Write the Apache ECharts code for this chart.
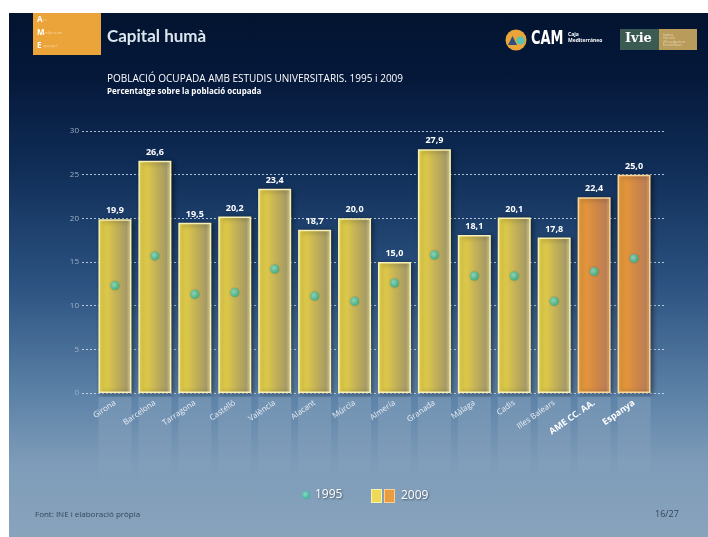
<!DOCTYPE html>
<html>
<head>
<meta charset="utf-8">
<script src="https://cdn.jsdelivr.net/npm/echarts@6/dist/echarts.min.js"></script>
<style>
  html, body { margin: 0; padding: 0; background: #ffffff; }
  #slide {
    position: absolute; left: 9px; top: 13px; width: 699px; height: 524px;
    background: linear-gradient(to bottom, #031430 0%, #05183a 12%, #102e58 30%, #2c5381 52%, #5a80a6 72%, #7e9cb9 86%, #88a3bc 100%);
  }
  #chart { position: absolute; left: 0; top: 0; width: 708px; height: 537px; }
</style>
</head>
<body>
<div id="slide"></div>
<div id="chart"></div>
<script>
  // dades
  const categories = ['Girona', 'Barcelona', 'Tarragona', 'Castelló', 'València', 'Alacant', 'Múrcia',
    'Almería', 'Granada', 'Màlaga', 'Cadis', 'Illes Balears', 'AME CC. AA.', 'Espanya']
  const values2009 = [19.9, 26.6, 19.5, 20.2, 23.4, 18.7, 20.0, 15.0, 27.9, 18.1, 20.1, 17.8, 22.4, 25.0]
  const values1995 = [12.3, 15.7, 11.3, 11.5, 14.2, 11.1, 10.5, 12.6, 15.8, 13.4, 13.4, 10.5, 13.9, 15.4]
  const aggregates = ['AME CC. AA.', 'Espanya']
  const yTicks = { min: 0, max: 30, interval: 5 }

  const fmt = v => v.toFixed(1).replace('.', ',')

  /* colors de les barres */
  const yellowBar = new echarts.graphic.LinearGradient(0, 0, 1, 0, [
    { offset: 0, color: '#f7ea72' },
    { offset: 0.15, color: '#e6d146' },
    { offset: 0.5, color: '#c7b455' },
    { offset: 0.85, color: '#a69a66' },
    { offset: 1, color: '#e9df92' }
  ])
  const orangeBar = new echarts.graphic.LinearGradient(0, 0, 1, 0, [
    { offset: 0, color: '#f7b65a' },
    { offset: 0.15, color: '#ea9a3a' },
    { offset: 0.5, color: '#d58a44' },
    { offset: 0.85, color: '#bb7e55' },
    { offset: 1, color: '#ecaa6a' }
  ])

  const legendSvg = '<svg xmlns="http://www.w3.org/2000/svg" width="25" height="14">' +
    '<rect x="0.5" y="0.5" width="10" height="13" fill="#efd956" stroke="#f8f0b0"/>' +
    '<rect x="13.5" y="0.5" width="10" height="13" fill="#eb9c3c" stroke="#f8d090"/></svg>'

  const textShadow = { textShadowColor: 'rgba(0,0,0,0.45)', textShadowBlur: 2, textShadowOffsetX: 1, textShadowOffsetY: 1 }

  const chart = echarts.init(document.getElementById('chart'))

  const option = {
    backgroundColor: 'transparent',
    animation: false,
    title: {
      text: 'POBLACIÓ OCUPADA AMB ESTUDIS UNIVERSITARIS. 1995 i 2009',
      subtext: 'Percentatge sobre la població ocupada',
      left: 107,
      top: 74,
      padding: 0,
      itemGap: 4,
      textStyle: { color: '#ffffff', fontSize: 10, fontWeight: 'normal', fontFamily: 'Open Sans' },
      subtextStyle: { color: '#ffffff', fontSize: 8, fontWeight: 'bold', fontFamily: 'Open Sans' }
    },
    legend: [
      {
        data: ['1995'],
        left: 297, top: 484,
        icon: 'circle', itemWidth: 8, itemHeight: 8, itemGap: 6,
        textStyle: Object.assign({ color: '#ffffff', fontSize: 12, fontFamily: 'Open Sans' }, textShadow)
      },
      {
        data: [{ name: '2009', icon: 'image://data:image/svg+xml;utf8,' + encodeURIComponent(legendSvg) }],
        left: 366, top: 484,
        itemWidth: 25, itemHeight: 14, itemGap: 6,
        textStyle: Object.assign({ color: '#ffffff', fontSize: 12, fontFamily: 'Open Sans' }, textShadow)
      }
    ],
    grid: [
      { left: 82, right: 43, top: 131, bottom: 144 },   // línies de la quadrícula
      { left: 95, right: 54, top: 131, bottom: 144 },   // barres
      { left: 95, right: 54, top: 397, height: 86 }      // reflex
    ],
    xAxis: [
      { gridIndex: 0, type: 'value', show: false },
      {
        gridIndex: 1, type: 'category', data: categories, z: 5,
        axisLine: { show: false }, axisTick: { show: false },
        axisLabel: {
          rotate: 35, margin: 9, fontSize: 8, color: '#e9eef5', fontFamily: 'Open Sans',
          formatter: (v) => aggregates.includes(v) ? '{b|' + v + '}' : v,
          rich: { b: { fontSize: 9, fontWeight: 'bold', color: '#ffffff', fontFamily: 'Open Sans' } }
        }
      },
      { gridIndex: 2, type: 'category', data: categories, show: false }
    ],
    yAxis: [
      {
        gridIndex: 0, type: 'value', min: yTicks.min, max: yTicks.max, interval: yTicks.interval,
        axisLine: { show: false }, axisTick: { show: false },
        axisLabel: { color: '#9fb1c8', fontSize: 8, margin: 3, fontFamily: 'Open Sans' },
        splitLine: { lineStyle: { color: 'rgba(230,238,248,0.75)', type: [2, 2], width: 1 } }
      },
      { gridIndex: 1, type: 'value', min: yTicks.min, max: yTicks.max, show: false },
      { gridIndex: 2, type: 'value', min: 0, max: 10, inverse: true, show: false }
    ],
    series: [
      {
        name: '2009',
        type: 'bar',
        xAxisIndex: 1, yAxisIndex: 1,
        barWidth: 33,
        z: 2,
        itemStyle: { color: '#efd956' },
        data: values2009.map((v, i) => ({
          value: v,
          itemStyle: {
            color: aggregates.includes(categories[i]) ? orangeBar : yellowBar,
            borderColor: aggregates.includes(categories[i]) ? '#f9d79a' : '#f8f0b4',
            borderWidth: 1.5,
            shadowColor: 'rgba(0,0,0,0.45)', shadowBlur: 5, shadowOffsetX: 2, shadowOffsetY: 1
          }
        })),
        label: {
          show: true, position: 'top', distance: 4,
          color: '#ffffff', fontSize: 9, fontWeight: 'bold', fontFamily: 'Open Sans',
          formatter: p => fmt(p.value)
        }
      },
      {
        name: '1995',
        type: 'scatter',
        xAxisIndex: 1, yAxisIndex: 1,
        symbolSize: 9,
        z: 4,
        itemStyle: {
          color: new echarts.graphic.RadialGradient(0.4, 0.4, 0.6, [
            { offset: 0, color: '#8ae6cf' },
            { offset: 1, color: '#2fb391' }
          ]),
          shadowColor: 'rgba(0,0,0,0.3)', shadowBlur: 2
        },
        data: values1995
      },
      {
        name: 'reflex',
        type: 'bar',
        xAxisIndex: 2, yAxisIndex: 2,
        barWidth: 33,
        silent: true,
        clip: true,
        z: 1,
        itemStyle: {
          color: new echarts.graphic.LinearGradient(0, 0, 0, 1, [
            { offset: 0, color: 'rgba(255,255,255,0.13)' },
            { offset: 1, color: 'rgba(255,255,255,0)' }
          ])
        },
        data: values2009
      }
    ],
    graphic: [
      // capçalera: logotip AME
      { type: 'rect', shape: { x: 33, y: 13, width: 68, height: 42 }, style: { fill: '#eba43a' }, z: 50 },
      { type: 'text', x: 37, y: 16, style: { text: 'A', fill: '#ffffff', font: 'bold 8px Open Sans' }, z: 51 },
      { type: 'text', x: 43, y: 18, style: { text: 'rc', fill: '#f8d8a0', font: '4px Open Sans' }, z: 51 },
      { type: 'text', x: 37, y: 29, style: { text: 'M', fill: '#ffffff', font: 'bold 8px Open Sans' }, z: 51 },
      { type: 'text', x: 44, y: 31, style: { text: 'editerrani', fill: '#f8d8a0', font: '4px Open Sans' }, z: 51 },
      { type: 'text', x: 37, y: 42, style: { text: 'E', fill: '#ffffff', font: 'bold 8px Open Sans' }, z: 51 },
      { type: 'text', x: 43, y: 44, style: { text: 'spanyol', fill: '#f8d8a0', font: '4px Open Sans' }, z: 51 },
      {
        type: 'text', x: 107, y: 28,
        style: { text: 'Capital humà', fill: '#dce6ee', font: 'bold 17px Lato' }, z: 51
      },
      // logotip CAM
      { type: 'circle', shape: { cx: 516, cy: 40, r: 10.5 }, style: { fill: '#eaa53a' }, z: 50 },
      { type: 'polygon', shape: { points: [[508, 45], [512.5, 36], [517, 45]] }, style: { fill: '#2f4f7a' }, z: 51 },
      { type: 'circle', shape: { cx: 520.5, cy: 40.5, r: 4 }, style: { fill: '#58c3b5' }, z: 51 },
      {
        type: 'text', x: 531, y: 29, scaleX: 0.72,
        style: { text: 'CAM', fill: '#ffffff', font: 'bold 20px DejaVu Sans Condensed' }, z: 51
      },
      {
        type: 'text', x: 568, y: 32,
        style: { text: 'Caja\nMediterráneo', fill: '#ffffff', font: 'bold 5px Open Sans', lineHeight: 6 }, z: 51
      },
      // logotip Ivie
      { type: 'rect', shape: { x: 620, y: 29, width: 39, height: 21 }, style: { fill: '#3a5a52' }, z: 50 },
      { type: 'rect', shape: { x: 659, y: 29, width: 38, height: 21 }, style: { fill: '#b99b5b' }, z: 50 },
      {
        type: 'text', x: 625, y: 32,
        style: { text: 'Ivie', fill: '#ffffff', font: 'bold 13px DejaVu Serif' }, z: 51
      },
      {
        type: 'text', x: 663, y: 33,
        style: { text: 'Institut\nValencià\nd\'Investigacions\nEconòmiques', fill: '#e8dcb8', font: '3px Open Sans', lineHeight: 3.5 }, z: 51
      },
      // peu
      {
        type: 'text', x: 35, y: 511,
        style: { text: 'Font: INE i elaboració pròpia', fill: '#34465c', font: '8px Open Sans' }, z: 51
      },
      {
        type: 'text', x: 655, y: 510,
        style: { text: '16/27', fill: '#34465c', font: '9px Open Sans' }, z: 51
      }
    ]
  }

  chart.setOption(option)
  window.addEventListener('resize', function () {
    chart.resize()
  })
</script>
</body>
</html>
